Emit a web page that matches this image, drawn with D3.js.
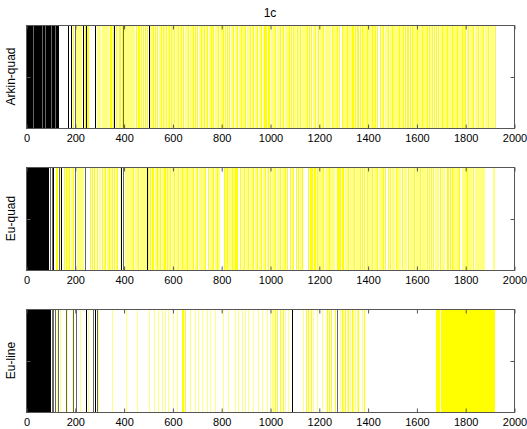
<!DOCTYPE html>
<html>
<head>
<meta charset="utf-8">
<script src="https://cdn.jsdelivr.net/npm/d3@7"></script>
<style>
  body { margin: 0; background: #fff; }
  text { font-family: "Liberation Sans", Arial, sans-serif; fill: #000; }
</style>
</head>
<body>
<script>
// data, in sample index units (0..2000)
const panelNames = ["Arkin-quad", "Eu-quad", "Eu-line"]
const xTicks = [0, 200, 400, 600, 800, 1000, 1200, 1400, 1600, 1800, 2000]

// Arkin-quad
const arkinBlackBlocks = [[0, 135]]
const arkinBlack = [171, 184, 234, 246, 283, 361, 504]
const arkinGray = [30, 64, 78, 101, 119, 201, 398]
const arkinYellow = [194, 240, 248, 255, 345, 350, 355, 362, 368, 380, 386, 392, 452, 458, 465, 472,
  480, 488, 495, 520, 529, 538, 552, 560, 574, 585, 593, 607, 623, 637, 645, 665, 686, 694, 702, 717,
  730, 740, 757, 768, 788, 809, 817, 825, 833, 850, 866, 880, 899, 918, 932, 948, 964, 975, 980, 984,
  990, 995, 1020, 1041, 1055, 1078, 1086, 1094, 1109, 1123, 1150, 1160, 1170, 1184, 1198, 1219, 1253,
  1273, 1283, 1294, 1314, 1335, 1342, 1350, 1356, 1362, 1369, 1376, 1396, 1417, 1431, 1440, 1451,
  1465, 1485, 1499, 1527, 1546, 1553, 1560, 1567, 1574, 1581, 1601, 1622, 1642, 1650, 1663, 1672,
  1681, 1690, 1703, 1724, 1745, 1765, 1785, 1799, 1813, 1833, 1854, 1874, 1895, 1921]
const arkinPale = [200, 206, 212, 220, 290, 300, 310, 317, 325, 333, 402, 410, 418, 425, 432, 440,
  505, 512, 545, 567, 580, 600, 615, 630, 652, 658, 673, 680, 710, 723, 736, 748, 762, 775, 782, 795,
  802, 840, 857, 873, 887, 893, 905, 912, 925, 940, 956, 970, 1005, 1012, 1030, 1035, 1048, 1062,
  1070, 1100, 1116, 1130, 1137, 1143, 1177, 1191, 1205, 1212, 1226, 1233, 1240, 1260, 1267, 1301,
  1308, 1321, 1328, 1383, 1390, 1403, 1410, 1424, 1458, 1472, 1478, 1492, 1506, 1513, 1520, 1534,
  1540, 1588, 1594, 1608, 1615, 1629, 1635, 1656, 1697, 1710, 1717, 1731, 1738, 1752, 1758, 1772,
  1779, 1792, 1806, 1820, 1826, 1840, 1847, 1861, 1867, 1881, 1888, 1902, 1908]
const arkinYellowBlocks = []

// Eu-quad
const euqBlackBlocks = [[0, 95]]
const euqBlack = [111, 143, 388, 495]
const euqGray = [100, 105, 137, 201, 242, 398]
const euqYellow = [122, 128, 155, 162, 178, 194, 262, 270, 278, 291, 311, 324, 340, 352, 361, 374,
  440, 460, 501, 508, 515, 522, 536, 549, 566, 571, 576, 590, 607, 624, 638, 658, 686, 702, 735, 747,
  765, 781, 811, 822, 843, 856, 861, 866, 877, 893, 911, 932, 948, 962, 980, 993, 1000, 1020, 1040,
  1062, 1070, 1082, 1096, 1106, 1116, 1130, 1157, 1162, 1167, 1174, 1179, 1183, 1191, 1219, 1240,
  1273, 1278, 1283, 1287, 1294, 1301, 1320, 1345, 1369, 1378, 1387, 1396, 1420, 1440, 1464, 1473,
  1482, 1492, 1515, 1540, 1567, 1590, 1615, 1642, 1651, 1660, 1669, 1695, 1724, 1731, 1738, 1745,
  1775, 1806, 1833]
const euqPale = [135, 170, 185, 210, 215, 222, 228, 300, 318, 332, 345, 368, 384, 406, 412, 419, 426,
  433, 447, 454, 468, 475, 481, 488, 529, 543, 556, 583, 597, 600, 614, 631, 645, 652, 665, 672, 679,
  693, 709, 715, 720, 728, 754, 760, 773, 788, 817, 829, 836, 850, 884, 900, 905, 918, 925, 940, 955,
  970, 986, 1007, 1013, 1027, 1034, 1048, 1055, 1089, 1123, 1198, 1205, 1212, 1226, 1233, 1247, 1253,
  1260, 1308, 1314, 1328, 1335, 1352, 1360, 1403, 1410, 1427, 1433, 1447, 1455, 1499, 1506, 1522,
  1530, 1548, 1555, 1575, 1582, 1597, 1605, 1622, 1630, 1677, 1685, 1703, 1710, 1752, 1760, 1767,
  1785, 1792, 1799, 1813, 1820, 1840, 1848, 1855, 1861, 1868, 1874, 1912]
const euqYellowBlocks = []

// Eu-line
const eulBlackBlocks = [[0, 101]]
const eulBlack = [246, 283, 1089]
const eulGray = [105, 111, 119, 132, 163, 191, 205, 276, 290, 1273]
const eulYellow = [638, 645, 652, 1020, 1030, 1042, 1055, 1147, 1157, 1168, 1232, 1242, 1252, 1267,
  1294, 1307, 1321, 1335, 1362, 1385]
const eulPale = [126, 139, 167, 187, 221, 256, 296, 354, 410, 454, 506, 525, 542, 556, 570, 583, 601,
  617, 672, 693, 706, 720, 740, 754, 775, 809, 829, 857, 870, 884, 898, 911, 932, 952, 966, 986, 1000,
  1007, 1014, 1062, 1075, 1137, 1178, 1191, 1212, 1287, 1300, 1314, 1328, 1342, 1348, 1355, 1376]
const eulYellowBlocks = [[1679, 1695], [1699, 1922]]

const panels = [
  { name: panelNames[0], bBlocks: arkinBlackBlocks, black: arkinBlack, gray: arkinGray, yellow: arkinYellow, pale: arkinPale, yBlocks: arkinYellowBlocks },
  { name: panelNames[1], bBlocks: euqBlackBlocks, black: euqBlack, gray: euqGray, yellow: euqYellow, pale: euqPale, yBlocks: euqYellowBlocks },
  { name: panelNames[2], bBlocks: eulBlackBlocks, black: eulBlack, gray: eulGray, yellow: eulYellow, pale: eulPale, yBlocks: eulYellowBlocks }
]
// sparse bottom panel has thinner pale marks
const paleWidth = [2, 2, 1]

// layout
const width = 527, height = 429
const panelTop = [25, 167, 309]
const panelH = 103

const svg = d3.select("body").append("svg")
  .attr("width", width).attr("height", height)
svg.append("rect").attr("width", width).attr("height", height).attr("fill", "#fff")

const X = d3.scaleLinear().domain([0, 2000]).range([26, 514])
const Y = d3.scaleLinear().domain([0, 1]).range([panelH, 0])

svg.append("text")
  .attr("x", X(1000)).attr("y", 17)
  .attr("text-anchor", "middle")
  .style("font-size", "12px")
  .text("1c")

// thin vertical marks, w pixels wide
function vlines(g, data, color, w) {
  g.append("g").selectAll("rect").data(data).enter().append("rect")
    .attr("x", d => Math.round(X(d)))
    .attr("width", w)
    .attr("y", 0).attr("height", panelH)
    .attr("fill", color)
}

panels.forEach((p, k) => {
  const g = svg.append("g").attr("transform", `translate(0, ${panelTop[k]})`)

  g.selectAll(".yb").data(p.yBlocks).enter().append("rect")
    .attr("x", d => Math.round(X(d[0]))).attr("width", d => Math.round(X(d[1])) - Math.round(X(d[0])))
    .attr("y", 0).attr("height", panelH).attr("fill", "#ffff00")
  vlines(g, p.pale, "#ffff80", paleWidth[k])
  vlines(g, p.yellow, "#ffff00", 1)
  g.selectAll(".bb").data(p.bBlocks).enter().append("rect")
    .attr("x", d => Math.round(X(d[0]))).attr("width", d => Math.round(X(d[1])) - Math.round(X(d[0])))
    .attr("y", 0).attr("height", panelH).attr("fill", "#000")
  vlines(g, p.gray, "#666", 1)
  vlines(g, p.black, "#000", 1)

  // box
  g.append("rect")
    .attr("x", X(0) + 0.5).attr("y", 0.5)
    .attr("width", X(2000) - X(0)).attr("height", panelH)
    .attr("fill", "none").attr("stroke", "#555")

  // axes, ticks inside
  const xb = g.append("g").attr("transform", `translate(0.5, ${panelH + 0.5})`)
    .call(d3.axisBottom(X).tickValues(xTicks).tickSize(-4).tickPadding(6).tickSizeOuter(0).tickFormat(d3.format("d")))
  xb.select(".domain").remove()
  xb.selectAll("text").style("font-size", "11px").attr("font-family", null)
  xb.selectAll("line").attr("stroke", "#555")

  const xt = g.append("g").attr("transform", "translate(0.5, 0.5)")
    .call(d3.axisTop(X).tickValues(xTicks).tickSize(-4).tickFormat("").tickSizeOuter(0))
  xt.select(".domain").remove()
  xt.selectAll("line").attr("stroke", "#555")

  const yl = g.append("g").attr("transform", `translate(${X(0) + 0.5}, 0.5)`)
    .call(d3.axisLeft(Y).tickValues([0.5]).tickSize(-4).tickFormat("").tickSizeOuter(0))
  yl.select(".domain").remove()
  yl.selectAll("line").attr("stroke", "#555")
  const yr = g.append("g").attr("transform", `translate(${X(2000) + 0.5}, 0.5)`)
    .call(d3.axisRight(Y).tickValues([0.5]).tickSize(-4).tickFormat("").tickSizeOuter(0))
  yr.select(".domain").remove()
  yr.selectAll("line").attr("stroke", "#555")

  g.append("text")
    .attr("transform", `translate(15, ${panelH / 2}) rotate(-90)`)
    .attr("text-anchor", "middle")
    .style("font-size", "12px")
    .text(p.name)
})
</script>
</body>
</html>
